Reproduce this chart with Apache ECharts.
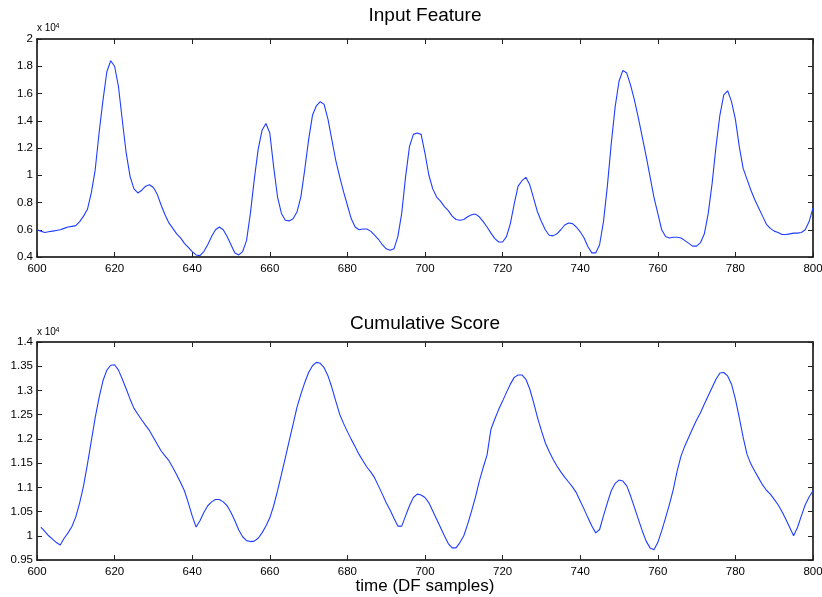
<!DOCTYPE html>
<html>
<head>
<meta charset="utf-8">
<script src="https://cdn.jsdelivr.net/npm/echarts@6/dist/echarts.min.js"></script>
<style>
  html, body { margin: 0; padding: 0; background: #fff; }
  #chart { width: 822px; height: 597px; }
</style>
</head>
<body>
<div id="chart"></div>
<script>
// Detection-function samples shown in both panels
const xTicks = [600, 620, 640, 660, 680, 700, 720, 740, 760, 780, 800];

// Input feature, values in units of 10^4, one per sample starting at 600
const featureStart = 600;
const featureValues = [
  0.60, 0.59, 0.58, 0.585, 0.59, 0.595, 0.60, 0.61, 0.62, 0.625,
  0.63, 0.66, 0.70, 0.75, 0.87, 1.04, 1.31, 1.55, 1.76, 1.84,
  1.80, 1.65, 1.40, 1.16, 0.99, 0.90, 0.87, 0.89, 0.92, 0.93,
  0.91, 0.86, 0.78, 0.71, 0.65, 0.61, 0.57, 0.54, 0.50, 0.47,
  0.44, 0.415, 0.41, 0.44, 0.49, 0.55, 0.60, 0.62, 0.60, 0.55,
  0.49, 0.43, 0.415, 0.44, 0.52, 0.72, 0.97, 1.19, 1.33, 1.38,
  1.31, 1.06, 0.84, 0.72, 0.67, 0.665, 0.68, 0.73, 0.84, 1.04,
  1.26, 1.44, 1.51, 1.54, 1.52, 1.41, 1.26, 1.11, 0.99, 0.88,
  0.78, 0.68, 0.62, 0.60, 0.605, 0.605, 0.59, 0.56, 0.53, 0.49,
  0.46, 0.45, 0.46, 0.55, 0.72, 0.99, 1.21, 1.30, 1.31, 1.30,
  1.16, 1.00, 0.90, 0.84, 0.81, 0.77, 0.74, 0.70, 0.675, 0.67,
  0.675, 0.695, 0.71, 0.715, 0.695, 0.66, 0.62, 0.575, 0.535, 0.51,
  0.51, 0.55, 0.645, 0.79, 0.92, 0.96, 0.985, 0.93, 0.83, 0.73,
  0.66, 0.60, 0.56, 0.555, 0.57, 0.60, 0.635, 0.65, 0.645, 0.62,
  0.585, 0.54, 0.475, 0.43, 0.43, 0.49, 0.66, 0.92, 1.23, 1.50,
  1.69, 1.77, 1.75, 1.66, 1.55, 1.42, 1.28, 1.14, 0.99, 0.84,
  0.72, 0.60, 0.55, 0.54, 0.545, 0.545, 0.54, 0.52, 0.50, 0.48,
  0.48, 0.505, 0.57, 0.72, 0.94, 1.21, 1.44, 1.59, 1.62, 1.54,
  1.41, 1.21, 1.05, 0.97, 0.89, 0.82, 0.76, 0.70, 0.64, 0.61,
  0.59, 0.58, 0.565, 0.565, 0.57, 0.575, 0.575, 0.58, 0.60, 0.66,
  0.76
];

// Cumulative score, values in units of 10^4, one per sample starting at 601
const scoreStart = 601;
const scoreValues = [
  1.018, 1.009, 1.000, 0.993, 0.986, 0.981, 0.995, 1.006, 1.019,
  1.039, 1.068, 1.103, 1.148, 1.196, 1.244, 1.285, 1.320, 1.342, 1.352,
  1.353, 1.342, 1.323, 1.303, 1.282, 1.263, 1.251, 1.239, 1.228, 1.217,
  1.203, 1.189, 1.175, 1.165, 1.155, 1.141, 1.126, 1.110, 1.093, 1.068,
  1.041, 1.018, 1.031, 1.048, 1.062, 1.070, 1.075, 1.075, 1.070, 1.062,
  1.048, 1.031, 1.012, 0.998, 0.990, 0.988, 0.989, 0.995, 1.006, 1.020,
  1.037, 1.062, 1.093, 1.127, 1.161, 1.196, 1.230, 1.265, 1.292, 1.316,
  1.337, 1.351, 1.358, 1.356, 1.347, 1.330, 1.306, 1.278, 1.251, 1.232,
  1.215, 1.199, 1.184, 1.168, 1.155, 1.142, 1.132, 1.120, 1.103, 1.086,
  1.068, 1.053, 1.036, 1.020, 1.020, 1.041, 1.062, 1.079, 1.086, 1.084,
  1.079, 1.068, 1.051, 1.034, 1.017, 1.000, 0.984, 0.975, 0.975, 0.986,
  1.000, 1.024, 1.051, 1.080, 1.113, 1.141, 1.167, 1.220, 1.241, 1.261,
  1.278, 1.296, 1.313, 1.327, 1.332, 1.332, 1.323, 1.303, 1.275, 1.244,
  1.217, 1.192, 1.174, 1.158, 1.144, 1.132, 1.121, 1.111, 1.101, 1.089,
  1.072, 1.055, 1.037, 1.020, 1.006, 1.013, 1.041, 1.068, 1.093, 1.108,
  1.115, 1.113, 1.103, 1.082, 1.058, 1.034, 1.010, 0.989, 0.975, 0.971,
  0.986, 1.010, 1.037, 1.065, 1.096, 1.134, 1.165, 1.186, 1.204, 1.222,
  1.239, 1.254, 1.272, 1.289, 1.306, 1.323, 1.336, 1.337, 1.330, 1.313,
  1.282, 1.244, 1.203, 1.168, 1.148, 1.133, 1.119, 1.105, 1.094, 1.086,
  1.075, 1.064, 1.050, 1.034, 1.017, 1.000, 1.017, 1.041, 1.064, 1.080,
  1.093
];

// Axis ranges (units of 10^4 on y)
const featureAxis = { min: 0.4, max: 2, step: 0.2 };
const scoreAxis = { min: 0.95, max: 1.4, step: 0.05 };

const titles = ['Input Feature', 'Cumulative Score'];
const xName = 'time (DF samples)';

const FONT = '"Liberation Sans", Arial, Helvetica, sans-serif';
const LINE_BLUE = '#1f3dff';

function toPairs(start, values) {
  return values.map((v, i) => [start + i, v]);
}
function fmt(v) {
  return String(parseFloat(v.toFixed(2)));
}

const tickStyle = { show: true, inside: true, length: 5, lineStyle: { color: '#222', width: 1 } };
const frameLine = { show: true, onZero: false, lineStyle: { color: '#000', width: 1.5 } };

function xAxisPair(gridIndex, showLabels) {
  const base = {
    type: 'value', gridIndex: gridIndex, min: xTicks[0], max: xTicks[xTicks.length - 1],
    interval: xTicks[1] - xTicks[0], splitLine: { show: false },
    axisLine: frameLine, axisTick: tickStyle
  };
  return [
    Object.assign({}, base, {
      position: 'bottom',
      axisLabel: { show: showLabels, margin: 6, color: '#000', fontFamily: FONT, fontSize: 11.5 }
    }),
    Object.assign({}, base, { position: 'top', axisLabel: { show: false } })
  ];
}
function yAxisPair(gridIndex, rng) {
  const base = {
    type: 'value', gridIndex: gridIndex, min: rng.min, max: rng.max, interval: rng.step,
    splitLine: { show: false }, axisLine: frameLine, axisTick: tickStyle
  };
  return [
    Object.assign({}, base, {
      position: 'left',
      axisLabel: { show: true, margin: 4, color: '#000', fontFamily: FONT, fontSize: 11.5, formatter: fmt }
    }),
    Object.assign({}, base, { position: 'right', axisLabel: { show: false } })
  ];
}

const PLOT_LEFT = 37, PLOT_W = 776, PLOT_H = 218;
const TOP1 = 39, TOP2 = 342;
const cx = PLOT_LEFT + PLOT_W / 2;

function textEl(x, y, text, size, align, vAlign) {
  return {
    type: 'text', x: x, y: y, silent: true,
    style: { text: text, fill: '#000', font: size + 'px ' + FONT, textAlign: align, textVerticalAlign: vAlign }
  };
}

const chart = echarts.init(document.getElementById('chart'), null, { renderer: 'canvas' });
chart.setOption({
  backgroundColor: '#fff',
  animation: false,
  grid: [
    { left: PLOT_LEFT, top: TOP1, width: PLOT_W, height: PLOT_H, containLabel: false, outerBoundsMode: 'none' },
    { left: PLOT_LEFT, top: TOP2, width: PLOT_W, height: PLOT_H, containLabel: false, outerBoundsMode: 'none' }
  ],
  xAxis: [].concat(xAxisPair(0, true), xAxisPair(1, true)),
  yAxis: [].concat(yAxisPair(0, featureAxis), yAxisPair(1, scoreAxis)),
  series: [
    {
      type: 'line', xAxisIndex: 0, yAxisIndex: 0, data: toPairs(featureStart, featureValues),
      showSymbol: false, lineStyle: { color: LINE_BLUE, width: 1.1 }, itemStyle: { color: LINE_BLUE }
    },
    {
      type: 'line', xAxisIndex: 2, yAxisIndex: 2, data: toPairs(scoreStart, scoreValues),
      showSymbol: false, lineStyle: { color: LINE_BLUE, width: 1.1 }, itemStyle: { color: LINE_BLUE }
    }
  ],
  graphic: [
    textEl(cx, 15.7, titles[0], 19, 'center', 'middle'),
    textEl(cx, 324, titles[1], 19, 'center', 'middle'),
    textEl(cx, 586, xName, 17, 'center', 'middle'),
    // exponent markers above each y axis
    textEl(37, 33.5, 'x 10', 10, 'left', 'bottom'),
    textEl(55.5, 30, '4', 7, 'left', 'bottom'),
    textEl(37, 337, 'x 10', 10, 'left', 'bottom'),
    textEl(55.5, 333.5, '4', 7, 'left', 'bottom')
  ]
});
</script>
</body>
</html>
